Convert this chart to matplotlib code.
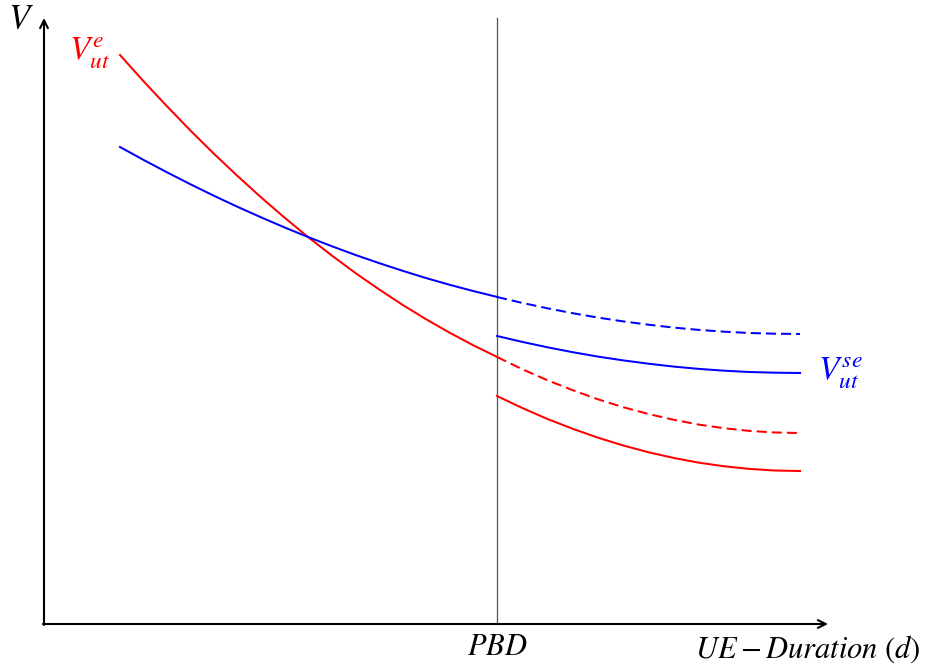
import matplotlib.pyplot as plt

plt.rcParams['mathtext.fontset'] = 'stix'
plt.rcParams['font.family'] = 'STIXGeneral'

# chart units (origin at the axes corner)
x_end = 784
y_end = 606
pbd = 453

x_pre = [76, 99.5, 123, 146.5, 170, 193.5, 217, 240.5, 264, 287.5, 311,
         334.5, 358, 381.5, 406, 429.5, 453]
red_pre = [569, 542.8, 517.7, 493.4, 470.2, 448.0, 426.7, 406.4, 387.0,
           368.7, 351.3, 335.0, 319.5, 305.1, 291.1, 278.6, 267.1]
blue_pre = [477, 464.1, 451.7, 439.7, 428.2, 417.2, 406.7, 396.6, 387.0,
            377.9, 369.2, 361.1, 353.4, 346.1, 339.1, 332.9, 327.1]

x_post = [453, 478.25, 503.5, 528.75, 554, 579.25, 604.5, 629.75, 655,
          680.25, 705.5, 730.75, 756]
blue_dash = [327, 321.1, 315.7, 310.8, 306.4, 302.6, 299.3, 296.4, 294.1,
             292.3, 291.0, 290.3, 290]
blue_post = [288, 282.1, 276.7, 271.8, 267.4, 263.6, 260.3, 257.4, 255.1,
             253.3, 252.0, 251.3, 251]
red_dash = [267, 254.8, 243.7, 233.8, 224.7, 216.8, 210, 204.2, 199.4,
            195.75, 193.1, 191.5, 191]
red_post = [228, 216, 205, 195.2, 186.3, 178.5, 171.75, 166.05, 161.3,
            157.7, 155.1, 153.5, 153]

fig = plt.figure(figsize=(9.35, 6.68), dpi=100)
ax = fig.add_axes([0, 0, 1, 1])
ax.set_xlim(-44, 891)
ax.set_ylim(-44, 624)
ax.axis('off')

# axes with arrows
arrow = dict(arrowstyle='->', color='black', lw=1.5, shrinkA=0, shrinkB=0,
             mutation_scale=14)
ax.annotate('', xy=(x_end, 0), xytext=(-1, 0), arrowprops=arrow)
ax.annotate('', xy=(0, y_end), xytext=(0, -1), arrowprops=arrow)

# PBD line
ax.plot([pbd, pbd], [0, y_end], color='#555555', lw=0.9)

lw = 1.45
ax.plot(x_pre, red_pre, color='red', lw=lw)
ax.plot(x_pre, blue_pre, color='blue', lw=lw)
ax.plot(x_post, blue_dash, color='blue', lw=lw, dashes=(5, 2.5))
ax.plot(x_post, blue_post, color='blue', lw=lw)
ax.plot(x_post, red_dash, color='red', lw=lw, dashes=(5, 2.5))
ax.plot(x_post, red_post, color='red', lw=lw)

ax.text(-23, 603, r'$V$', fontsize=25, ha='center', va='center')
ax.text(45, 571, r'$V^{e}_{ut}$', fontsize=24, color='red', ha='center', va='center')
ax.text(796, 251, r'$V^{se}_{ut}$', fontsize=24, color='blue', ha='center', va='center')
ax.text(pbd, -24, r'$PBD$', fontsize=22, ha='center', va='center')
ax.text(764, -25, r'$UE-Duration\ (d)$', fontsize=22, ha='center', va='center')

fig.savefig('out.png', dpi=100)
